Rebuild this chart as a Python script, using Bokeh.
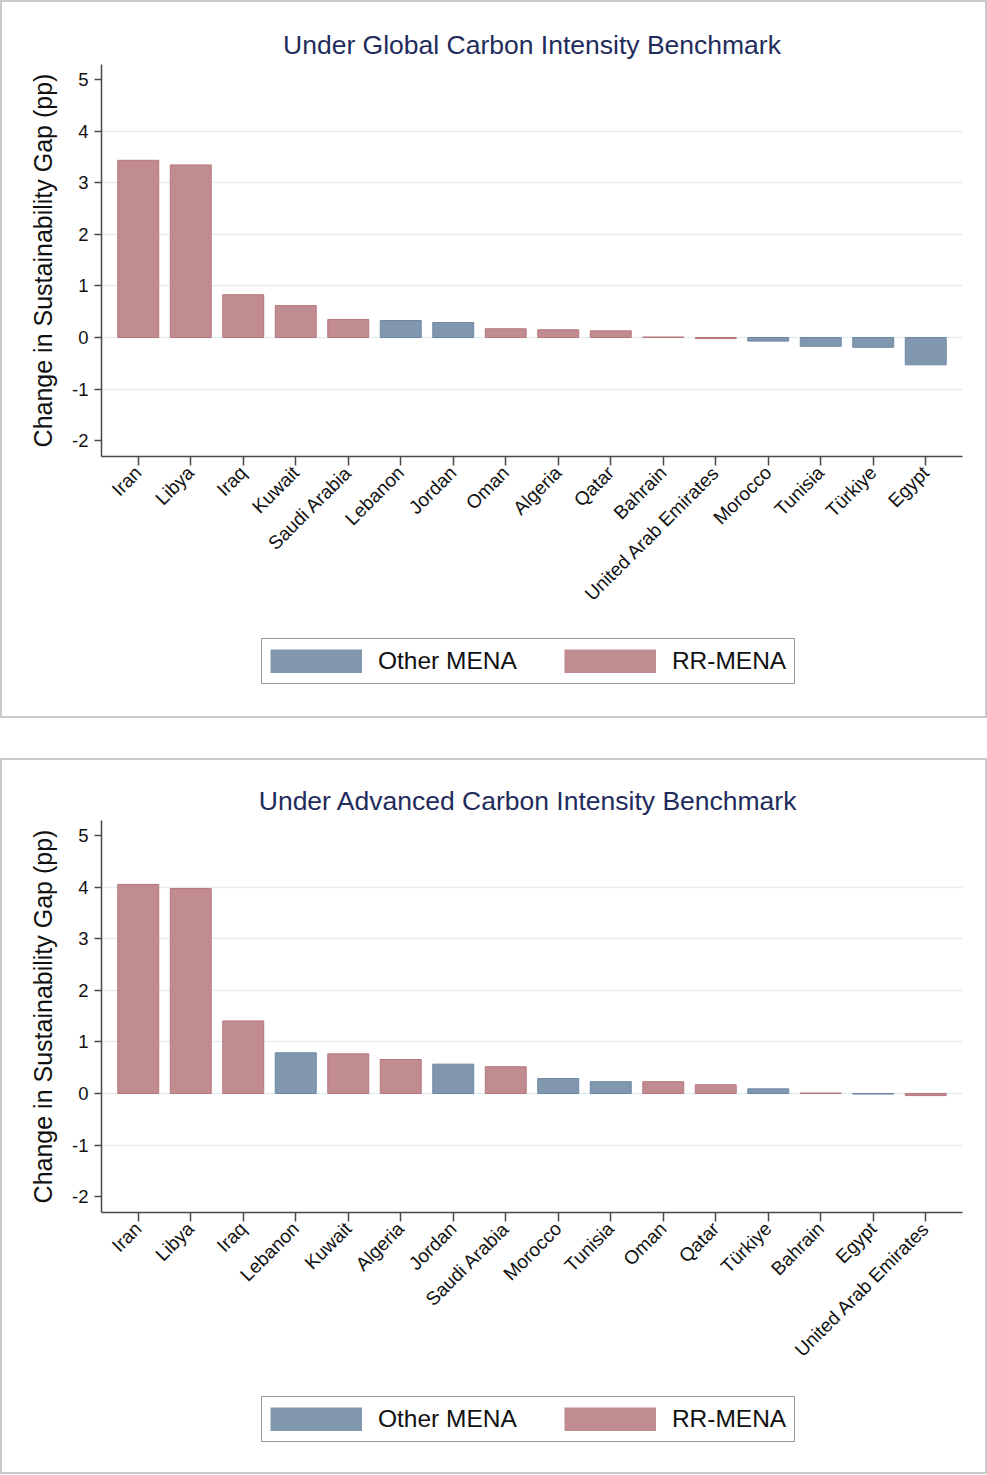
import math
from bokeh.plotting import figure
from bokeh.models import (ColumnDataSource, FactorRange, Range1d, FixedTicker,
                          Legend, LegendItem)
from bokeh.layouts import column
from bokeh.embed import file_html
from bokeh.resources import INLINE

# ---------------- data ----------------
title_global = "Under Global Carbon Intensity Benchmark"
countries_global = ["Iran", "Libya", "Iraq", "Kuwait", "Saudi Arabia", "Lebanon",
                    "Jordan", "Oman", "Algeria", "Qatar", "Bahrain",
                    "United Arab Emirates", "Morocco", "Tunisia", "Türkiye", "Egypt"]
values_global = [3.44, 3.35, 0.83, 0.62, 0.35, 0.33, 0.29, 0.17, 0.15, 0.13,
                 0.01, -0.02, -0.07, -0.17, -0.19, -0.53]
groups_global = ["RR-MENA", "RR-MENA", "RR-MENA", "RR-MENA", "RR-MENA", "Other MENA",
                 "Other MENA", "RR-MENA", "RR-MENA", "RR-MENA", "RR-MENA",
                 "RR-MENA", "Other MENA", "Other MENA", "Other MENA", "Other MENA"]

title_adv = "Under Advanced Carbon Intensity  Benchmark"
countries_adv = ["Iran", "Libya", "Iraq", "Lebanon", "Kuwait", "Algeria", "Jordan",
                 "Saudi Arabia", "Morocco", "Tunisia", "Oman", "Qatar", "Türkiye",
                 "Bahrain", "Egypt", "United Arab Emirates"]
values_adv = [4.06, 3.98, 1.41, 0.79, 0.77, 0.66, 0.57, 0.52, 0.29, 0.23, 0.23,
              0.17, 0.09, 0.01, -0.01, -0.04]
groups_adv = ["RR-MENA", "RR-MENA", "RR-MENA", "Other MENA", "RR-MENA", "RR-MENA",
              "Other MENA", "RR-MENA", "Other MENA", "Other MENA", "RR-MENA",
              "RR-MENA", "Other MENA", "RR-MENA", "Other MENA", "RR-MENA"]

group_names = ["Other MENA", "RR-MENA"]
y_ticks = [-2, -1, 0, 1, 2, 3, 4, 5]
y_tick_labels = ["-2", "-1", "0", "1", "2", "3", "4", "5"]
grid_ticks = [-1, 0, 1, 2, 3, 4]
y_label = "Change in Sustainability Gap (pp)"

# ---------------- style ----------------
FONT = "Liberation Sans"
FILL = {"Other MENA": "#8197ae", "RR-MENA": "#c18c90"}
LINE = {"Other MENA": "#6d88a5", "RR-MENA": "#b7777d"}
AXIS_COL = "#4a4a4a"
BOX = {"outline": "2px solid #c9c9c9", "outline-offset": "-2px",
       "box-shadow": "inset 0 0 0 2px #c9c9c9", "background-color": "white"}


def make_chart(title, countries, values, groups, top_border):
    p = figure(
        x_range=FactorRange(factors=countries, range_padding=0.2,
                            range_padding_units="absolute"),
        y_range=Range1d(-2.31, 5.3),
        frame_width=861, frame_height=392,
        min_border_left=101, min_border_right=25,
        min_border_top=top_border, min_border_bottom=160,
        output_backend="svg", toolbar_location=None, title=title,
    )
    p.border_fill_alpha = 0
    p.background_fill_alpha = 0
    for g in group_names:
        xs = [c for c, gg in zip(countries, groups) if gg == g]
        ys = [v for v, gg in zip(values, groups) if gg == g]
        src = ColumnDataSource(dict(x=xs, top=ys))
        p.vbar(x="x", top="top", bottom=0, width=0.78, source=src,
               fill_color=FILL[g], line_color=LINE[g], line_width=1)

    p.title.text_font = FONT
    p.title.text_font_size = "26.5px"
    p.title.text_font_style = "normal"
    p.title.text_color = "#1f2c5c"
    p.title.align = "center"
    p.title.standoff = 10

    p.outline_line_color = None
    p.xgrid.visible = False
    p.ygrid.ticker = FixedTicker(ticks=grid_ticks)
    p.ygrid.grid_line_color = "#e4eef0"
    p.ygrid.grid_line_width = 1.5

    xa = p.xaxis[0]
    xa.major_label_orientation = math.pi / 4
    xa.major_label_text_font = FONT
    xa.major_label_text_font_size = "19px"
    xa.major_label_text_color = "#111111"
    xa.major_tick_out = 9
    xa.major_tick_in = 0
    xa.major_tick_line_color = AXIS_COL
    xa.major_tick_line_width = 1.5
    xa.axis_line_color = AXIS_COL
    xa.axis_line_width = 1.5
    xa.major_label_standoff = 4

    ya = p.yaxis[0]
    ya.ticker = FixedTicker(ticks=y_ticks)
    ya.major_label_overrides = {t: s for t, s in zip(y_ticks, y_tick_labels)}
    ya.major_label_text_font = FONT
    ya.major_label_text_font_size = "18.5px"
    ya.major_label_text_color = "#111111"
    ya.major_tick_out = 7
    ya.major_tick_in = 0
    ya.minor_tick_line_color = None
    ya.major_tick_line_color = AXIS_COL
    ya.major_tick_line_width = 1.5
    ya.axis_line_color = AXIS_COL
    ya.axis_line_width = 1.5
    ya.major_label_standoff = 6
    ya.axis_label = y_label
    ya.axis_label_text_font = FONT
    ya.axis_label_text_font_size = "25px"
    ya.axis_label_text_font_style = "normal"
    ya.axis_label_text_color = "#111111"
    ya.axis_label_standoff = 12
    return p


def make_legend(bottom_offset):
    q = figure(frame_width=861, frame_height=102,
               x_range=Range1d(0, 1), y_range=Range1d(0, 1),
               x_axis_location=None, y_axis_location=None,
               min_border_left=101, min_border_right=25,
               min_border_top=0, min_border_bottom=0,
               output_backend="svg", toolbar_location=None)
    q.border_fill_alpha = 0
    q.background_fill_alpha = 0
    q.outline_line_color = None
    q.xgrid.visible = False
    q.ygrid.visible = False
    swatches = {}
    for g in group_names:
        # legend swatch only: the single point has no y, so nothing is drawn
        swatches[g] = q.line(x=[0.5], y=[float("nan")], line_width=24,
                             line_color=FILL[g], line_cap="butt")
    legend = Legend(
        items=[LegendItem(label=g, renderers=[swatches[g]]) for g in group_names],
        orientation="horizontal", location=(160, bottom_offset),
        glyph_width=92, glyph_height=24, label_height=24,
        label_text_font=FONT, label_text_font_size="24.5px",
        label_text_color="#111111",
        label_standoff=16, spacing=47, padding=8, margin=0,
        border_line_color="#333333", border_line_width=1.2,
        background_fill_color="white", background_fill_alpha=1.0,
    )
    q.add_layout(legend)
    return q


p1 = make_chart(title_global, countries_global, values_global, groups_global, 64)
l1 = make_legend(34)
p2 = make_chart(title_adv, countries_adv, values_adv, groups_adv, 62)
l2 = make_legend(32)

block1 = column(p1, l1, spacing=0, styles=BOX)
block2 = column(p2, l2, spacing=0, styles=BOX)
layout = column(block1, block2, spacing=40)

open("out.html", "w").write(file_html(layout, INLINE))
